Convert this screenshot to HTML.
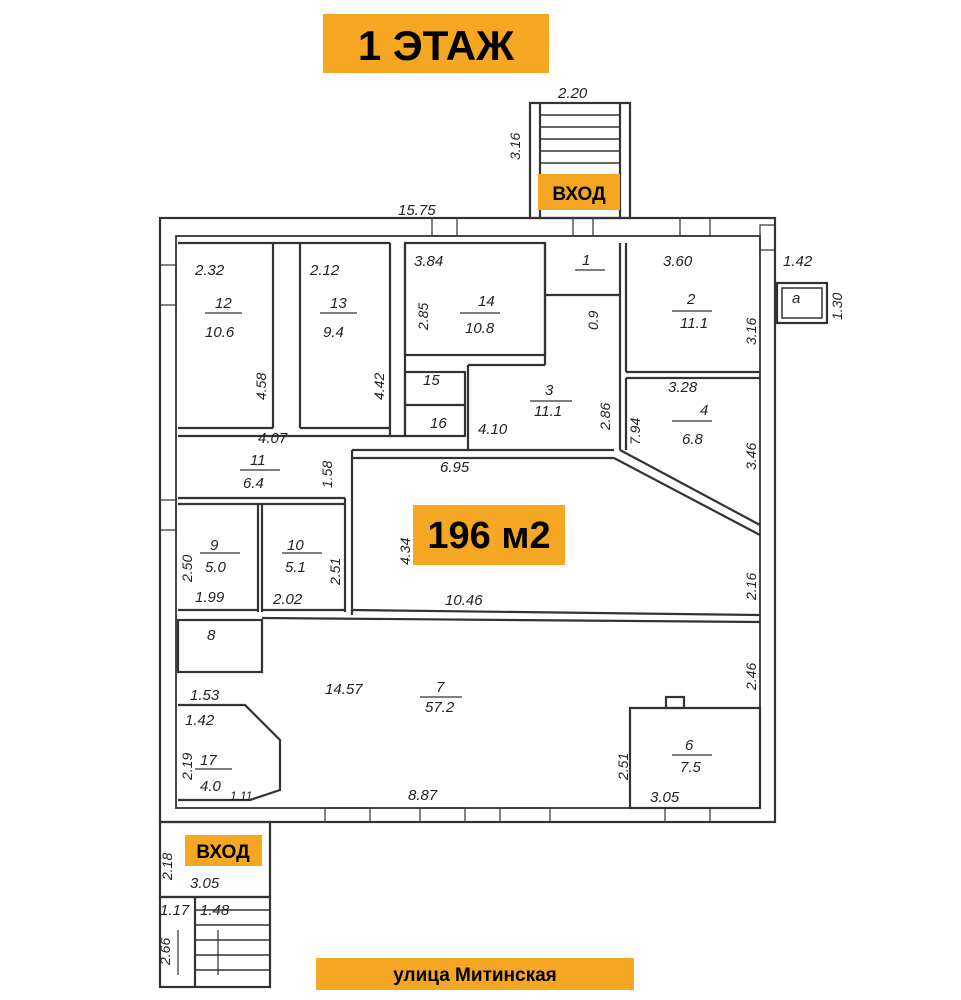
<!DOCTYPE html>
<html><head><meta charset="utf-8">
<style>
html,body{margin:0;padding:0;background:#fff;width:961px;height:1000px;overflow:hidden}
svg{display:block}
.t{font-family:"Liberation Sans",sans-serif;font-size:15px;fill:#222;font-style:italic}
.b{font-family:"Liberation Sans",sans-serif;font-weight:bold;fill:#000}
</style></head><body>
<svg width="961" height="1000" viewBox="0 0 961 1000">
<g stroke="#333" stroke-width="2.2" fill="none">
<rect x="160" y="218" width="615" height="604"/>
<rect x="176" y="236" width="584" height="572" stroke-width="1.8"/>
<rect x="530" y="103" width="100" height="115"/>
<line x1="540" y1="103" x2="540" y2="218"/><line x1="620" y1="103" x2="620" y2="218"/>
<g stroke-width="1.5">
<line x1="540" y1="115" x2="620" y2="115"/><line x1="540" y1="127" x2="620" y2="127"/>
<line x1="540" y1="139" x2="620" y2="139"/><line x1="540" y1="151" x2="620" y2="151"/>
<line x1="540" y1="163" x2="620" y2="163"/><line x1="540" y1="175" x2="620" y2="175"/>
</g>
<rect x="777" y="283" width="50" height="40"/><rect x="782" y="288" width="40" height="30" stroke-width="1.5"/>
<line x1="273" y1="243" x2="273" y2="428"/><line x1="300" y1="243" x2="300" y2="428"/>
<line x1="390" y1="243" x2="390" y2="436"/>
<line x1="178" y1="428" x2="273" y2="428"/><line x1="300" y1="428" x2="390" y2="428"/>
<line x1="178" y1="436" x2="405" y2="436"/>
<line x1="178" y1="243" x2="390" y2="243"/>
<line x1="405" y1="243" x2="405" y2="436"/>
<rect x="405" y="243" width="140" height="112"/>
<line x1="545" y1="243" x2="545" y2="365"/>
<line x1="545" y1="295" x2="620" y2="295"/>
<rect x="405" y="372" width="60" height="64"/>
<line x1="405" y1="405" x2="465" y2="405"/>
<line x1="468" y1="365" x2="468" y2="450"/>
<line x1="468" y1="365" x2="545" y2="365"/>
<line x1="620" y1="243" x2="620" y2="450"/><line x1="626" y1="243" x2="626" y2="372"/>
<line x1="626" y1="372" x2="760" y2="372"/><line x1="626" y1="378" x2="760" y2="378"/>
<line x1="626" y1="378" x2="626" y2="450"/>
<line x1="620" y1="450" x2="760" y2="525"/><line x1="614" y1="458" x2="760" y2="535"/>
<line x1="352" y1="450" x2="614" y2="450"/><line x1="352" y1="458" x2="614" y2="458"/>
<line x1="352" y1="450" x2="352" y2="615"/>
<line x1="352" y1="610" x2="760" y2="615"/><line x1="262" y1="618" x2="760" y2="622"/>
<line x1="178" y1="498" x2="345" y2="498"/><line x1="178" y1="504" x2="345" y2="504"/>
<line x1="345" y1="498" x2="345" y2="612"/>
<line x1="258" y1="504" x2="258" y2="612"/><line x1="262" y1="504" x2="262" y2="612"/>
<line x1="178" y1="610" x2="258" y2="610"/><line x1="262" y1="610" x2="345" y2="610"/>
<rect x="178" y="620" width="84" height="52"/>
<polyline points="178,705 245,705 280,740 280,790 250,800 178,800"/>
<rect x="630" y="708" width="130" height="100"/>
<rect x="666" y="697" width="18" height="11"/>
<rect x="160" y="822" width="110" height="75"/>
<rect x="160" y="897" width="110" height="90"/>
<line x1="195" y1="897" x2="195" y2="987"/>
<g stroke-width="1.5">
<line x1="195" y1="910" x2="270" y2="910"/><line x1="195" y1="925" x2="270" y2="925"/>
<line x1="195" y1="940" x2="270" y2="940"/><line x1="195" y1="955" x2="270" y2="955"/>
<line x1="195" y1="970" x2="270" y2="970"/>
</g>
<g stroke-width="1.2">
<rect x="432" y="218" width="25" height="18"/><rect x="573" y="218" width="20" height="18"/>
<rect x="680" y="218" width="30" height="18"/>
<rect x="160" y="265" width="16" height="40"/><rect x="160" y="500" width="16" height="30"/>
<rect x="325" y="808" width="45" height="14"/><rect x="420" y="808" width="45" height="14"/>
<rect x="500" y="808" width="50" height="14"/><rect x="665" y="808" width="45" height="14"/>
<rect x="760" y="225" width="15" height="25"/>
</g>
<g stroke-width="1.2">
<line x1="205" y1="313" x2="242" y2="313"/><line x1="320" y1="313" x2="357" y2="313"/>
<line x1="460" y1="313" x2="500" y2="313"/><line x1="672" y1="311" x2="712" y2="311"/>
<line x1="530" y1="401" x2="572" y2="401"/><line x1="672" y1="421" x2="712" y2="421"/>
<line x1="240" y1="470" x2="280" y2="470"/><line x1="200" y1="553" x2="240" y2="553"/>
<line x1="282" y1="553" x2="322" y2="553"/><line x1="420" y1="697" x2="462" y2="697"/>
<line x1="195" y1="769" x2="232" y2="769"/><line x1="672" y1="755" x2="712" y2="755"/>
<line x1="575" y1="270" x2="605" y2="270"/>
<line x1="178" y1="930" x2="178" y2="975"/><line x1="218" y1="930" x2="218" y2="975"/>
</g>
</g>
<rect x="323" y="14" width="226" height="59" fill="#F5A623"/>
<text x="436" y="60" class="b" font-size="42" text-anchor="middle">1 ЭТАЖ</text>
<rect x="538" y="174" width="82" height="36" fill="#F5A623"/>
<text x="579" y="200" class="b" font-size="19" text-anchor="middle">ВХОД</text>
<rect x="185" y="835" width="77" height="31" fill="#F5A623"/>
<text x="223" y="858" class="b" font-size="19" text-anchor="middle">ВХОД</text>
<rect x="413" y="505" width="152" height="60" fill="#F5A623"/>
<text x="489" y="548" class="b" font-size="38" text-anchor="middle">196 м2</text>
<rect x="316" y="958" width="318" height="32" fill="#F5A623"/>
<text x="475" y="981" class="b" font-size="19" text-anchor="middle">улица Митинская</text>
<g class="t">
<text x="558" y="98">2.20</text><text x="398" y="215">15.75</text>
<text x="195" y="275">2.32</text><text x="215" y="308">12</text><text x="205" y="337">10.6</text>
<text x="310" y="275">2.12</text><text x="330" y="308">13</text><text x="323" y="337">9.4</text>
<text x="414" y="266">3.84</text><text x="478" y="306">14</text><text x="465" y="333">10.8</text>
<text x="582" y="265">1</text><text x="663" y="266">3.60</text>
<text x="687" y="304">2</text><text x="680" y="328">11.1</text>
<text x="783" y="266">1.42</text><text x="792" y="303">a</text>
<text x="423" y="385">15</text><text x="430" y="428">16</text>
<text x="545" y="395">3</text><text x="534" y="416">11.1</text><text x="478" y="434">4.10</text>
<text x="668" y="392">3.28</text><text x="700" y="415">4</text><text x="682" y="444">6.8</text>
<text x="258" y="443">4.07</text><text x="250" y="465">11</text><text x="243" y="488">6.4</text>
<text x="440" y="472">6.95</text>
<text x="210" y="550">9</text><text x="205" y="572">5.0</text>
<text x="287" y="550">10</text><text x="285" y="572">5.1</text>
<text x="195" y="602">1.99</text><text x="273" y="604">2.02</text>
<text x="445" y="605">10.46</text>
<text x="207" y="640">8</text><text x="190" y="700">1.53</text>
<text x="325" y="694">14.57</text><text x="436" y="692">7</text><text x="425" y="712">57.2</text>
<text x="185" y="725">1.42</text><text x="200" y="765">17</text><text x="200" y="791">4.0</text>
<text x="408" y="800">8.87</text><text x="685" y="750">6</text><text x="680" y="772">7.5</text>
<text x="650" y="802">3.05</text><text x="190" y="888">3.05</text>
<text x="160" y="915">1.17</text><text x="200" y="915">1.48</text>
<text x="230" y="800" font-size="12">1.11</text>
<g font-size="14">
<text transform="translate(520,160) rotate(-90)">3.16</text>
<text transform="translate(266,400) rotate(-90)">4.58</text>
<text transform="translate(384,400) rotate(-90)">4.42</text>
<text transform="translate(428,330) rotate(-90)">2.85</text>
<text transform="translate(598,330) rotate(-90)">0.9</text>
<text transform="translate(842,320) rotate(-90)">1.30</text>
<text transform="translate(756,345) rotate(-90)">3.16</text>
<text transform="translate(610,430) rotate(-90)">2.86</text>
<text transform="translate(640,445) rotate(-90)">7.94</text>
<text transform="translate(756,470) rotate(-90)">3.46</text>
<text transform="translate(332,488) rotate(-90)">1.58</text>
<text transform="translate(410,565) rotate(-90)">4.34</text>
<text transform="translate(192,582) rotate(-90)">2.50</text>
<text transform="translate(340,585) rotate(-90)">2.51</text>
<text transform="translate(756,600) rotate(-90)">2.16</text>
<text transform="translate(756,690) rotate(-90)">2.46</text>
<text transform="translate(192,780) rotate(-90)">2.19</text>
<text transform="translate(628,780) rotate(-90)">2.51</text>
<text transform="translate(172,880) rotate(-90)">2.18</text>
<text transform="translate(170,965) rotate(-90)">2.66</text>
</g>
</g>
</svg>
</body></html>
